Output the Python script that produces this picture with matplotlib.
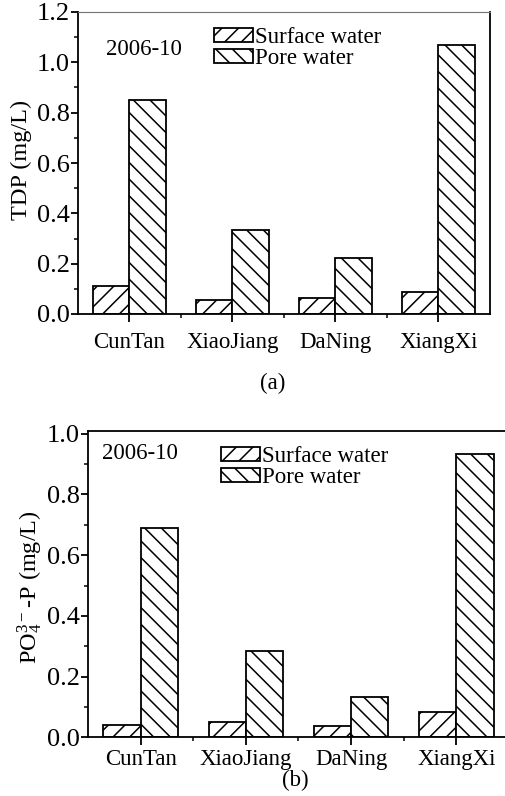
import numpy as np
import matplotlib
matplotlib.use("Agg")
import matplotlib.pyplot as plt
from matplotlib.ticker import MultipleLocator, FixedLocator

plt.rcParams["font.family"] = ["Liberation Serif", "DejaVu Serif"]
plt.rcParams["mathtext.fontset"] = "custom"
plt.rcParams["mathtext.rm"] = "Liberation Serif"
plt.rcParams["hatch.linewidth"] = 1.1

sites = ["CunTan", "XiaoJiang", "DaNing", "XiangXi"]
tdp_surface = [0.112, 0.054, 0.063, 0.086]
tdp_pore = [0.850, 0.334, 0.222, 1.070]
po4_surface = [0.041, 0.052, 0.037, 0.084]
po4_pore = [0.690, 0.284, 0.132, 0.934]

W = 0.355
x = np.arange(len(sites))

fig = plt.figure(figsize=(5.06, 7.96), dpi=100)
axa = fig.add_axes([78 / 506, 1 - 314 / 796, 412 / 506, 302 / 796])
axb = fig.add_axes([88 / 506, 1 - 737.3 / 796, 421 / 506, 306.6 / 796])


def panel(ax, surf, pore, ymax, ymajor, xpad, tx, ty):
    ax.bar(x - W / 2, surf, W, facecolor="white", edgecolor="black", lw=1.3,
           hatch="//", label="Surface water", zorder=2)
    ax.bar(x + W / 2, pore, W, facecolor="white", edgecolor="black", lw=1.3,
           hatch="\\\\", label="Pore water", zorder=2)
    ax.set_xlim(-0.5, 3.5)
    ax.set_ylim(0, ymax)
    ax.set_xticks(x)
    ax.set_xticklabels(sites, fontsize=16.5)
    ax.xaxis.set_minor_locator(FixedLocator([0.5, 1.5, 2.5]))
    ax.yaxis.set_major_locator(MultipleLocator(ymajor))
    ax.yaxis.set_minor_locator(MultipleLocator(ymajor / 2))
    ax.yaxis.set_major_formatter(matplotlib.ticker.FormatStrFormatter("%.1f"))
    ax.tick_params(axis="y", which="major", direction="out", length=5, width=1.3,
                   labelsize=19, pad=1)
    ax.tick_params(axis="y", which="minor", direction="out", length=3, width=1.1)
    ax.tick_params(axis="x", which="major", direction="out", length=6, width=1.3, pad=xpad)
    ax.tick_params(axis="x", which="minor", direction="out", length=3, width=1.1)
    for s in ax.spines.values():
        s.set_linewidth(1.3)
    ax.text(tx, ty, "2006-10", transform=ax.transAxes, fontsize=16.5,
            va="center", ha="left")
    ax.legend(loc="upper left", bbox_to_anchor=(tx + 0.262 if ax is axa else 0.316, 0.95),
              frameon=False, fontsize=16.5, handlelength=1.7, handleheight=0.6,
              handletextpad=0.1, labelspacing=0.0, borderpad=0, borderaxespad=0)


panel(axa, tdp_surface, tdp_pore, 1.2, 0.2, 7, 0.068, 0.877)
panel(axb, po4_surface, po4_pore, 1.01, 0.2, 2.5, 0.033, 0.927)

axa.spines["top"].set_color("0.45")
axa.spines["top"].set_linewidth(0.8)

axa.set_ylabel("TDP (mg/L)", fontsize=17.5)
axa.yaxis.set_label_coords(-0.112, 0.51)
axb.set_ylabel(r"$\mathregular{PO_4^{3-}}$-P (mg/L)", fontsize=17.5)
axb.yaxis.set_label_coords(-0.102, 0.49)

fig.text(273 / 506, 1 - 383 / 796, "(a)", fontsize=16.5, ha="center", va="center")
fig.text(295 / 506, 1 - 780 / 796, "(b)", fontsize=16.5, ha="center", va="center")

fig.savefig("out.png", dpi=100)
